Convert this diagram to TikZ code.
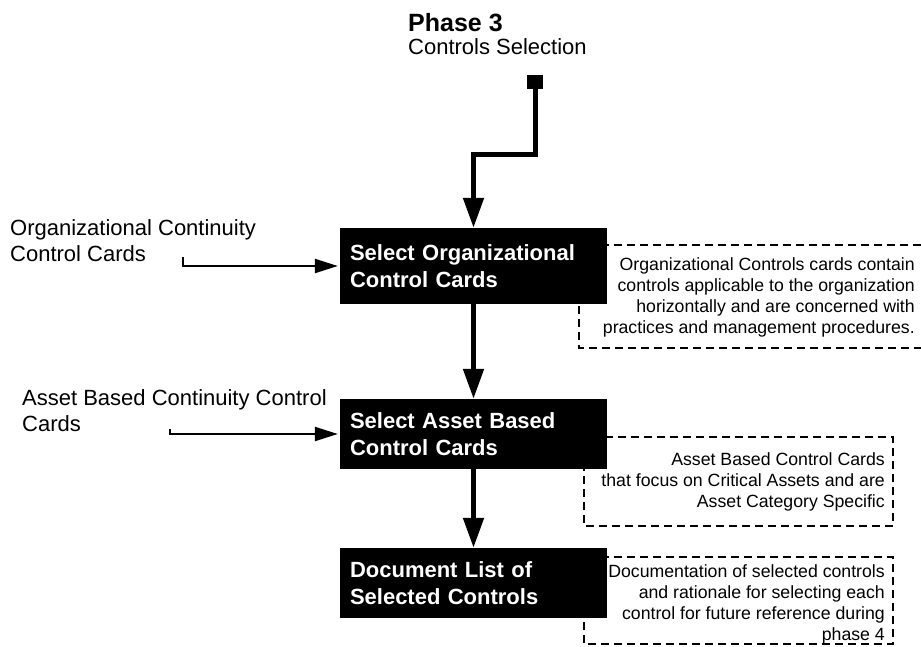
\documentclass[tikz,border=0pt]{standalone}
\usepackage{fontspec}
\setmainfont{Liberation Sans}
\usetikzlibrary{arrows.meta}
\begin{document}
\begin{tikzpicture}[x=1pt,y=-1pt,
  stepbox/.style={fill=black, text=white, font=\fontsize{22}{26.5}\selectfont\bfseries,
    minimum width=267pt, text width=247pt, align=left, inner xsep=10pt, inner ysep=0pt},
  lbl/.style={font=\fontsize{22}{26.5}\selectfont, align=left, inner sep=0pt, anchor=north west},
  note/.style={font=\fontsize{17.7}{21.3}\selectfont, align=right, inner sep=0pt, anchor=north east},
  dashbox/.style={line width=1.3pt, dash pattern=on 8pt off 5pt},
  thick arrow/.style={line width=5pt, line join=miter, -{Triangle[length=30pt,width=20pt]}},
  thin arrow/.style={line width=2.3pt, line join=miter, -{Triangle[length=23pt,width=14pt]}, shorten >=2pt}
]
\useasboundingbox (0,0) rectangle (921,646);

% dashed annotation frames (drawn first, black boxes overlap them)
\draw[dashbox] (921,245) -- (579,245) -- (579,348) -- (921,348);
\draw[dashbox] (584,437) rectangle (893,526);
\draw[dashbox] (584,557) rectangle (893,644);

% title
\node[font=\fontsize{25}{28}\selectfont\bfseries, anchor=base west, inner sep=0pt] (title) at (408,31) {Phase 3};
\node[font=\fontsize{22}{26}\selectfont, anchor=base west, inner sep=0pt] (subtitle) at (408,54) {Controls Selection};

% process boxes
\node[stepbox, minimum height=76pt] (b1) at (473.5,266) {Select Organizational\\Control Cards};
\node[stepbox, minimum height=70pt] (b2) at (473.5,434) {Select Asset Based\\Control Cards};
\node[stepbox, minimum height=70pt] (b3) at (473.5,583) {Document List of\\Selected Controls};

% start square
\node[fill=black, minimum width=16pt, minimum height=14pt, inner sep=0pt] (sq) at (535,82) {};
\coordinate (k) at (473.5,154);
\draw[thick arrow] (sq.south) |- (k) -- (b1.north);
\draw[thick arrow] (b1.south) -- (b2.north);
\draw[thick arrow] (b2.south) -- (b3.north);

% inputs
\node[lbl] (in1) at (10,219) {Organizational Continuity\\Control Cards};
\node[lbl] (in2) at (22,389) {Asset Based Continuity Control\\Cards};
\coordinate (s1) at (183,257);
\coordinate (s2) at (170,429);
\draw[thin arrow] (s1) |- (b1.west);
\draw[thin arrow] (s2) |- (b2.west);

% notes
\node[note] (n1) at (915,257) {Organizational Controls cards contain\\controls applicable to the organization\\horizontally and are concerned with\\practices and management procedures.};
\node[note] (n2) at (885,452) {Asset Based Control Cards\\that focus on Critical Assets and are\\Asset Category Specific};
\node[note] (n3) at (885,564) {Documentation of selected controls\\and rationale for selecting each\\control for future reference during\\phase 4};
\end{tikzpicture}
\end{document}
